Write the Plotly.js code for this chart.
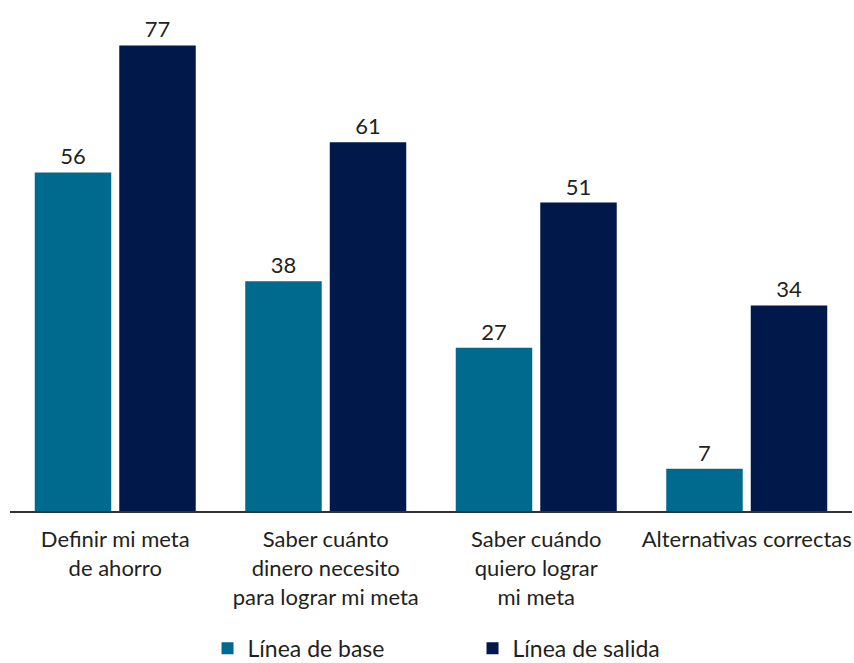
<!DOCTYPE html>
<html>
<head>
<meta charset="utf-8">
<script src="https://cdn.plot.ly/plotly-3.0.1.min.js"></script>
<style>html,body{margin:0;padding:0;background:#fff;}#chart{width:854px;height:663px;}</style>
</head>
<body>
<div id="chart"></div>
<script>
const categories = [
  "Definir mi meta<br>de ahorro",
  "Saber cuánto<br>dinero necesito<br>para lograr mi meta",
  "Saber cuándo<br>quiero lograr<br>mi meta",
  "Alternativas correctas"
];
const seriesNames = ["Línea de base", "Línea de salida"];
const baseValues = [56, 38, 27, 7];
const exitValues = [77, 61, 51, 34];

const FONT = "Lato, 'Open Sans', sans-serif";
const TXT = "#231F20";

const traces = [
  {
    type: "bar", name: seriesNames[0], x: categories, y: baseValues,
    marker: {color: "#006A8E"},
    text: baseValues.map(String), textposition: "outside",
    textfont: {family: FONT, size: 22, color: TXT},
    cliponaxis: false, hoverinfo: "none"
  },
  {
    type: "bar", name: seriesNames[1], x: categories, y: exitValues,
    marker: {color: "#00184A"},
    text: exitValues.map(String), textposition: "outside",
    textfont: {family: FONT, size: 22, color: TXT},
    cliponaxis: false, hoverinfo: "none"
  }
];

const layout = {
  width: 854, height: 663,
  margin: {l: 10, r: 2, t: 20, b: 152, autoexpand: false},
  paper_bgcolor: "#fff", plot_bgcolor: "#fff",
  font: {family: FONT, size: 22, color: TXT},
  barmode: "group", bargap: 0.197, bargroupgap: 0.095,
  showlegend: true,
  legend: {
    orientation: "h", x: 0.243, xanchor: "left", xref: "container",
    y: -0.236, yanchor: "top", yref: "paper",
    font: {family: FONT, size: 23, color: TXT},
    entrywidth: 220, itemsizing: "constant"
  },
  xaxis: {
    showline: true, linecolor: "#333", linewidth: 2,
    ticks: "", showgrid: false, zeroline: false,
    tickfont: {family: FONT, size: 22, color: TXT},
    ticklabelstandoff: 8, automargin: false
  },
  yaxis: {
    range: [0, 81.2], visible: false, showgrid: false, zeroline: false, automargin: false
  }
};

Plotly.newPlot("chart", traces, layout, {displayModeBar: false, staticPlot: true});
</script>
</body>
</html>
